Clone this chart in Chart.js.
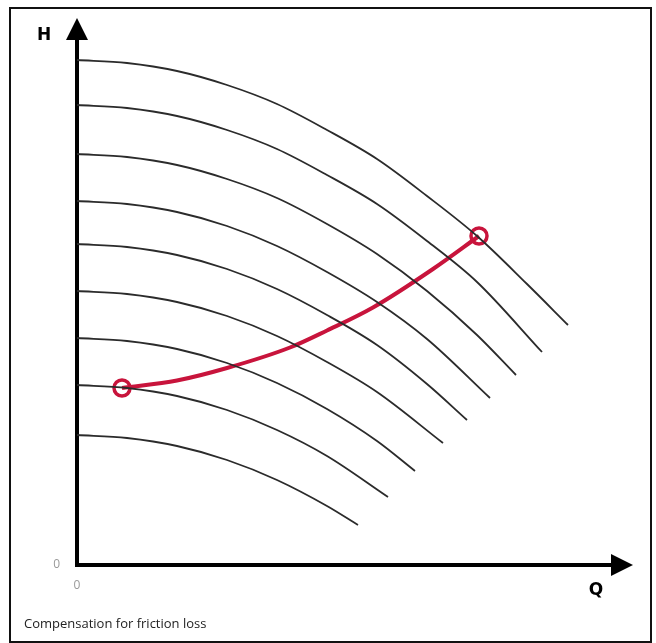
<!DOCTYPE html>
<html>
<head>
<meta charset="utf-8">
<script src="https://cdn.jsdelivr.net/npm/chart.js@4.4.0/dist/chart.umd.min.js"></script>
<style>
  body { margin: 0; background: #fff; }
  .frame {
    position: absolute; left: 9px; top: 7px; width: 639px; height: 632px;
    border: 2px solid #111; box-sizing: content-box;
  }
  #chart { position: absolute; left: 0; top: 0; }
  .caption {
    position: absolute; left: 24px; top: 614px;
    font-family: "Open Sans", sans-serif; font-size: 13px; color: #222;
  }
</style>
</head>
<body>
<div class="frame"></div>
<canvas id="chart" width="656" height="643"></canvas>
<div class="caption">Compensation for friction loss</div>
<script>
// pump curves at different speeds, [Q, H]
const curve1 = [[0, 101], [10, 100.4], [20, 98.8], [30, 96], [40, 92.2], [50, 87], [60, 81.2], [70, 73.8], [80, 65.8], [90, 56.2], [98.2, 48]];
const curve2 = [[0, 92], [10, 91.4], [20, 89.8], [30, 87], [40, 83.2], [50, 78], [60, 72.2], [70, 64.8], [80, 56.6], [93, 42.6]];
const curve3 = [[0, 82.2], [10, 81.6], [20, 80], [30, 77.2], [40, 73.4], [50, 68.2], [60, 62.2], [70, 54.8], [80, 46], [87.8, 38]];
const curve4 = [[0, 72.8], [10, 72.2], [20, 70.6], [30, 67.8], [40, 63.8], [50, 58.6], [60, 52.6], [70, 45.2], [82.6, 33.4]];
const curve5 = [[0, 64.2], [10, 63.6], [20, 62], [30, 59.2], [40, 55.2], [50, 50], [60, 44], [70, 36.2], [78, 29]];
const curve6 = [[0, 54.8], [10, 54.2], [20, 52.6], [30, 49.8], [40, 45.8], [50, 40.6], [60, 34.6], [73.2, 24.4]];
const curve7 = [[0, 45.4], [10, 44.8], [20, 43.2], [30, 40.4], [40, 36.4], [50, 31.2], [60, 24.8], [67.6, 18.8]];
const curve8 = [[0, 36], [10, 35.4], [20, 33.8], [30, 31], [40, 27], [50, 21.8], [62.2, 13.6]];
const curve9 = [[0, 26], [10, 25.4], [20, 23.8], [30, 21], [40, 17], [50, 11.8], [56.2, 8]];

// system curve (red)
const systemCurve = [[9, 35.4], [20, 36.9], [30, 39.4], [42.6, 43.5], [50, 46.9], [59.2, 51.5], [71.2, 59.2], [80.4, 65.8]];

const qMax = 110;
const hMax = 107;

const pumpCurves = [curve1, curve2, curve3, curve4, curve5, curve6, curve7, curve8, curve9];

function toPoints(pairs) {
  return pairs.map((p) => ({ x: p[0], y: p[1] }));
}

const datasets = pumpCurves.map((c) => ({
  data: toPoints(c),
  borderColor: "#2b2b2b",
  borderWidth: 1.8,
  pointRadius: 0,
  cubicInterpolationMode: "monotone",
  fill: false,
}));

datasets.push({
  data: toPoints(systemCurve),
  borderColor: "#c8143c",
  borderWidth: 4,
  pointRadius: (ctx) => (ctx.dataIndex === 0 || ctx.dataIndex === systemCurve.length - 1 ? 8 : 0),
  pointBorderWidth: 3.5,
  pointBorderColor: "#c8143c",
  pointBackgroundColor: "rgba(0,0,0,0)",
  cubicInterpolationMode: "monotone",
  fill: false,
});

// arrows and axis letters
const axisDecor = {
  id: "axisDecor",
  afterDraw(chart) {
    const { ctx, chartArea } = chart;
    ctx.save();
    ctx.fillStyle = "#000";
    // arrow on H axis
    ctx.beginPath();
    ctx.moveTo(chartArea.left, 18);
    ctx.lineTo(chartArea.left - 11, 40);
    ctx.lineTo(chartArea.left + 11, 40);
    ctx.closePath();
    ctx.fill();
    // arrow on Q axis
    ctx.beginPath();
    ctx.moveTo(633, chartArea.bottom);
    ctx.lineTo(611, chartArea.bottom - 11);
    ctx.lineTo(611, chartArea.bottom + 11);
    ctx.closePath();
    ctx.fill();

    ctx.font = "bold 17px 'DejaVu Sans', sans-serif";
    ctx.textAlign = "center";
    ctx.textBaseline = "middle";
    ctx.fillText("H", 44, 36);
    ctx.fillText("Q", 596, 591);
    ctx.restore();
  },
};

new Chart(document.getElementById("chart"), {
  type: "line",
  data: { datasets },
  options: {
    responsive: false,
    animation: false,
    layout: { padding: { left: 0, top: 30, right: 29, bottom: 0 } },
    plugins: { legend: { display: false }, tooltip: { enabled: false } },
    scales: {
      x: {
        type: "linear",
        min: 0,
        max: qMax,
        afterFit: (s) => { s.height = 78; },
        grid: { display: false },
        border: { display: true, color: "#000", width: 4 },
        ticks: {
          stepSize: qMax,
          color: "#999",
          padding: 5,
          font: { size: 12, family: "'Open Sans', sans-serif" },
          callback: (v) => (v === 0 ? "0" : ""),
        },
      },
      y: {
        type: "linear",
        min: 0,
        max: hMax,
        afterFit: (s) => { s.width = 77; },
        grid: { display: false },
        border: { display: true, color: "#000", width: 4 },
        ticks: {
          stepSize: hMax,
          color: "#999",
          padding: 9,
          font: { size: 12, family: "'Open Sans', sans-serif" },
          callback: (v) => (v === 0 ? "0" : ""),
        },
      },
    },
  },
  plugins: [axisDecor],
});
</script>
</body>
</html>
